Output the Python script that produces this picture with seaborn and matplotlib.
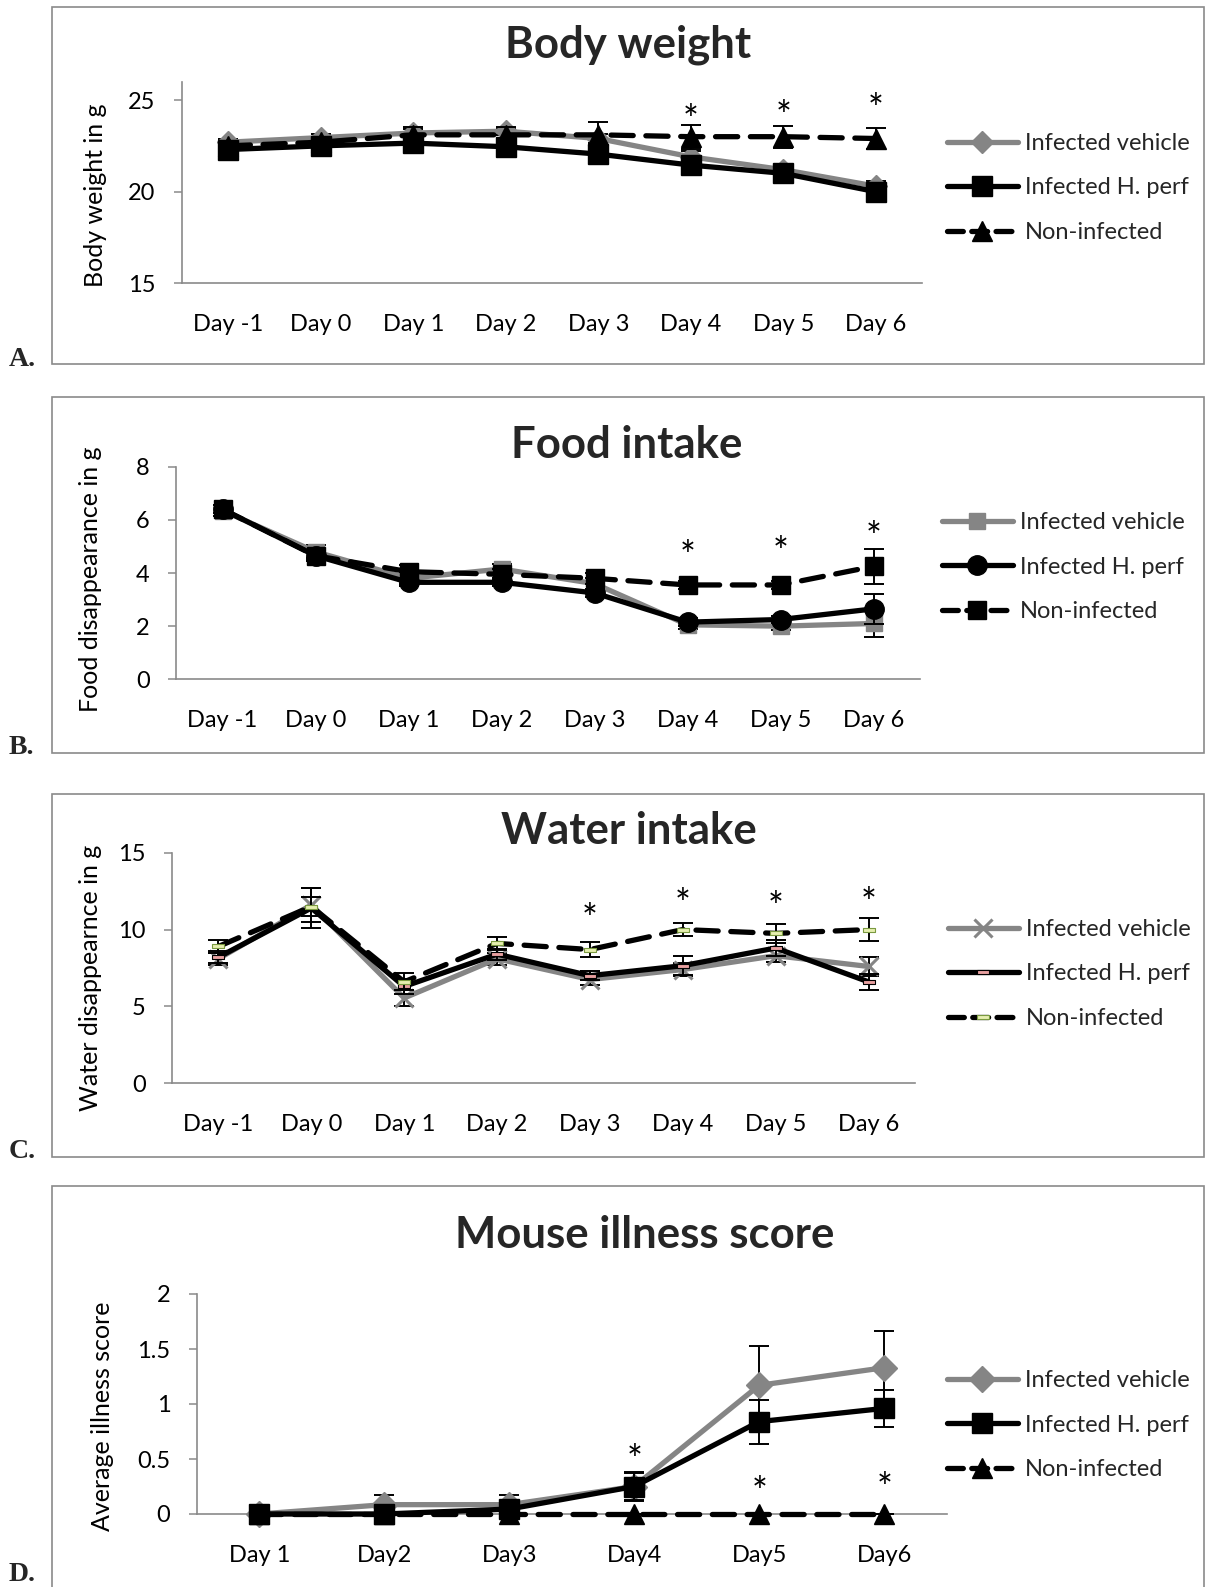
import numpy as np
import pandas as pd
import matplotlib
matplotlib.use("Agg")
import matplotlib.pyplot as plt
from matplotlib.lines import Line2D
from matplotlib.patches import Rectangle
from matplotlib.path import Path
import seaborn as sns

# ---------------- data ----------------
days8 = ["Day -1", "Day 0", "Day 1", "Day 2", "Day 3", "Day 4", "Day 5", "Day 6"]
days6 = ["Day 1", "Day2", "Day3", "Day4", "Day5", "Day6"]
groups = ["Infected vehicle", "Infected H. perf", "Non-infected"]

# Body weight (g)
bw_vehicle = [22.7, 22.95, 23.2, 23.3, 22.9, 21.9, 21.2, 20.3]
bw_hperf = [22.3, 22.5, 22.65, 22.45, 22.05, 21.45, 21.0, 20.0]
bw_noninf = [22.5, 22.7, 23.1, 23.1, 23.1, 23.0, 23.0, 22.9]
bw_vehicle_err = [0.15, 0.2, 0.2, 0.2, 0.25, 0.3, 0.2, 0.3]
bw_hperf_err = [0.2, 0.2, 0.25, 0.2, 0.3, 0.3, 0.2, 0.3]
bw_noninf_err = [0.2, 0.3, 0.45, 0.45, 0.7, 0.65, 0.6, 0.55]
bw_stars = [24.3, 24.55, 24.9]

# Food disappearance (g)
fd_vehicle = [6.35, 4.8, 3.8, 4.15, 3.6, 2.05, 2.0, 2.1]
fd_hperf = [6.4, 4.65, 3.65, 3.65, 3.25, 2.15, 2.25, 2.65]
fd_noninf = [6.4, 4.65, 4.05, 3.95, 3.8, 3.55, 3.55, 4.25]
fd_vehicle_err = [0.2, 0.25, 0.2, 0.2, 0.2, 0.15, 0.15, 0.5]
fd_hperf_err = [0.15, 0.2, 0.15, 0.15, 0.15, 0.15, 0.15, 0.57]
fd_noninf_err = [0.15, 0.15, 0.25, 0.2, 0.2, 0.15, 0.15, 0.65]
fd_stars = [4.92, 5.05, 5.64]

# Water disappearance (g)
wd_vehicle = [8.1, 11.6, 5.55, 8.1, 6.75, 7.4, 8.3, 7.6]
wd_hperf = [8.2, 11.4, 6.3, 8.4, 7.0, 7.65, 8.8, 6.6]
wd_noninf = [8.9, 11.5, 6.6, 9.1, 8.7, 10.0, 9.75, 10.0]
wd_vehicle_err = [0.4, 1.1, 0.5, 0.4, 0.35, 0.4, 0.4, 0.6]
wd_hperf_err = [0.4, 1.3, 0.5, 0.35, 0.3, 0.6, 0.5, 0.5]
wd_noninf_err = [0.45, 0.6, 0.55, 0.4, 0.5, 0.45, 0.6, 0.75]
wd_stars = [11.17, 12.14, 11.93, 12.19]

# Illness score
il_vehicle = [0.0, 0.085, 0.085, 0.25, 1.17, 1.33]
il_hperf = [0.0, 0.0, 0.045, 0.25, 0.84, 0.96]
il_noninf = [0.0, 0.0, 0.0, 0.0, 0.0, 0.0]
il_vehicle_err = [0.0, 0.085, 0.085, 0.13, 0.36, 0.33]
il_hperf_err = [0.0, 0.0, 0.05, 0.12, 0.2, 0.17]
il_noninf_err = [0.0, 0.0, 0.0, 0.0, 0.0, 0.0]
il_stars = [0.555, 0.27, 0.305]

# ---------------- style ----------------
W, H = 1207, 1587
GRAY = "#858585"
AXIS = "#8a8a8a"
FS = 17
STAR_FS = 27
TITLE_FS = 31.5

sns.set_theme(style="white")
plt.rcParams["font.family"] = ["Lato", "DejaVu Sans"]

fig = plt.figure(figsize=(W / 100, H / 100), dpi=100)

# dash-shaped marker used in the water panel
DASH = Path([(-1, -0.35), (1, -0.35), (1, 0.35), (-1, 0.35), (-1, -0.35)],
            [Path.MOVETO, Path.LINETO, Path.LINETO, Path.LINETO, Path.CLOSEPOLY])


def px_axes(x0, top, x1, bottom):
    return fig.add_axes([x0 / W, 1 - bottom / H, (x1 - x0) / W, (bottom - top) / H])


def fx(x):
    return x / W


def fy(y):
    return 1 - y / H


def panel_box(top, bottom, letter, letter_y, va="baseline"):
    fig.patches.append(Rectangle((fx(51.5), fy(bottom)), fx(1203.5 - 51.5), (bottom - top) / H,
                                 transform=fig.transFigure, fill=False,
                                 edgecolor=AXIS, linewidth=1.2, zorder=0))
    fig.text(fx(9), fy(letter_y), letter, fontsize=20, fontweight="bold",
             family=["Liberation Serif", "DejaVu Serif"], ha="left", va=va)


def draw_series(ax, days, values, errs, style, z):
    df = pd.DataFrame({"day": days, "value": values})
    sns.pointplot(data=df, x="day", y="value", order=days, ax=ax, errorbar=None,
                  legend=False, zorder=z, clip_on=False, **style)
    ax.errorbar(np.arange(len(days)), values, yerr=errs, fmt="none", ecolor="black",
                elinewidth=1.4, capsize=7, capthick=1.4, zorder=z - 0.5)


def style_axes(ax, days, ylim, yticks, yticklabels, ylabel, label_xy, ax_box):
    n = len(days)
    ax.set_xlim(-0.5, n - 0.5)
    ax.set_ylim(*ylim)
    ax.set_xticks(np.arange(n))
    ax.set_xticklabels(days, fontsize=FS, color="black")
    ax.set_xticks(np.arange(n + 1) - 0.5, minor=True)
    ax.set_yticks(yticks)
    ax.set_yticklabels(yticklabels, fontsize=FS, color="black")
    ax.tick_params(axis="x", which="major", length=0, pad=22)
    ax.tick_params(axis="x", which="minor", length=6, width=1.1, color=AXIS, direction="out")
    ax.tick_params(axis="y", which="major", length=6, width=1.1, color=AXIS, direction="out",
                   pad=13, left=True)
    for side in ["top", "right"]:
        ax.spines[side].set_visible(False)
    for side in ["left", "bottom"]:
        ax.spines[side].set_color(AXIS)
        ax.spines[side].set_linewidth(1.2)
    ax.set_xlabel("")
    ax.set_ylabel(ylabel, fontsize=18, color="black")
    x0, top, x1, bottom = ax_box
    lx = (label_xy[0] - x0) / (x1 - x0)
    ly = (bottom - label_xy[1]) / (bottom - top)
    ax.yaxis.set_label_coords(lx, ly)
    ax.yaxis.label.set_verticalalignment("center")
    ax.grid(False)
    ax.patch.set_alpha(0)


def add_stars(ax, xs, ys):
    # the asterisk glyph sits high in its text box, so nudge it down onto the value
    for x, y in zip(xs, ys):
        ax.annotate("*", (x, y), xytext=(0, -0.25 * STAR_FS), textcoords="offset points",
                    fontsize=STAR_FS, ha="center", va="center", color="black",
                    annotation_clip=False)


def add_legend(styles, x, y):
    handles = []
    for st in styles:
        kw = dict(st)
        if "dashes" in kw:
            kw["dashes"] = (3.0, 1.6)
        handles.append(Line2D([], [], **kw))
    fig.legend(handles, groups, loc="center left", bbox_to_anchor=(fx(x), fy(y)),
               frameon=False, fontsize=FS, handlelength=3.0, handletextpad=0.3,
               labelspacing=1.0, borderpad=0, borderaxespad=0, numpoints=1)


def solid(color, marker, ms, **extra):
    d = dict(color=color, marker=marker, markersize=ms, linestyle="-", linewidth=3.8,
             markeredgewidth=1, solid_capstyle="round")
    d.update(extra)
    return d


def dashed(marker, ms, **extra):
    d = dict(color="black", marker=marker, markersize=ms, linestyle="--", linewidth=3.8,
             dashes=(4.2, 2.4), dash_capstyle="round", markeredgewidth=1)
    d.update(extra)
    return d


# ---------------- panel A: body weight ----------------
panel_box(6.5, 364, "A.", 366)
boxA = (182, 81.7, 922, 283.3)
axA = px_axes(*boxA)
stA = [solid(GRAY, "D", 11, markeredgecolor=GRAY),
       solid("black", "s", 14),
       dashed("^", 15)]
for vals, errs, st, z in [(bw_vehicle, bw_vehicle_err, stA[0], 3),
                          (bw_hperf, bw_hperf_err, stA[1], 4),
                          (bw_noninf, bw_noninf_err, stA[2], 5)]:
    draw_series(axA, days8, vals, errs, st, z)
style_axes(axA, days8, (15, 26), [15, 20, 25], ["15", "20", "25"],
           "Body weight in g", (96, 195), boxA)
add_stars(axA, [5, 6, 7], bw_stars)
fig.text(fx(628), fy(45), "Body weight", fontsize=TITLE_FS, fontweight="bold",
         ha="center", va="center")
add_legend(stA, 947, 188)

# ---------------- panel B: food intake ----------------
panel_box(397, 753, "B.", 754)
boxB = (176, 466.7, 920, 679.3)
axB = px_axes(*boxB)
stB = [solid(GRAY, "s", 12, markeredgecolor=GRAY),
       solid("black", "o", 14),
       dashed("s", 13)]
for vals, errs, st, z in [(fd_vehicle, fd_vehicle_err, stB[0], 3),
                          (fd_hperf, fd_hperf_err, stB[1], 4),
                          (fd_noninf, fd_noninf_err, stB[2], 5)]:
    draw_series(axB, days8, vals, errs, st, z)
style_axes(axB, days8, (0, 8), [0, 2, 4, 6, 8], ["0", "2", "4", "6", "8"],
           "Food disappearance in g", (91, 579), boxB)
add_stars(axB, [5, 6, 7], fd_stars)
fig.text(fx(627), fy(445), "Food intake", fontsize=TITLE_FS, fontweight="bold",
         ha="center", va="center")
add_legend(stB, 942, 567)

# ---------------- panel C: water intake ----------------
panel_box(794, 1157, "C.", 1158)
boxC = (172, 852.7, 915, 1083.3)
axC = px_axes(*boxC)
stC = [solid(GRAY, "x", 13, markeredgewidth=2.2, markeredgecolor=GRAY),
       solid("black", DASH, 8, markerfacecolor="#e8a0a0", markeredgecolor="black",
             markeredgewidth=0.8),
       dashed(DASH, 8, markerfacecolor="#e6efb0", markeredgecolor="#7a9a40",
              markeredgewidth=0.8)]
for vals, errs, st, z in [(wd_vehicle, wd_vehicle_err, stC[0], 3),
                          (wd_hperf, wd_hperf_err, stC[1], 4),
                          (wd_noninf, wd_noninf_err, stC[2], 5)]:
    draw_series(axC, days8, vals, errs, st, z)
style_axes(axC, days8, (0, 15), [0, 5, 10, 15], ["0", "5", "10", "15"],
           "Water disappearnce in g", (91, 978), boxC)
add_stars(axC, [4, 5, 6, 7], wd_stars)
fig.text(fx(629), fy(831), "Water intake", fontsize=TITLE_FS, fontweight="bold",
         ha="center", va="center")
add_legend(stC, 948, 974)

# ---------------- panel D: illness score ----------------
panel_box(1186, 1600, "D.", 1587, va="bottom")
boxD = (196.7, 1294, 946.7, 1514)
axD = px_axes(*boxD)
stD = [solid(GRAY, "D", 13, markeredgecolor=GRAY),
       solid("black", "s", 15),
       dashed("^", 14)]
for vals, errs, st, z in [(il_vehicle, il_vehicle_err, stD[0], 3),
                          (il_hperf, il_hperf_err, stD[1], 4),
                          (il_noninf, il_noninf_err, stD[2], 5)]:
    draw_series(axD, days6, vals, errs, st, z)
style_axes(axD, days6, (0, 2), [0, 0.5, 1, 1.5, 2], ["0", "0.5", "1", "1.5", "2"],
           "Average illness score", (103, 1416), boxD)
add_stars(axD, [3, 4, 5], il_stars)
fig.text(fx(645), fy(1235), "Mouse illness score", fontsize=TITLE_FS, fontweight="bold",
         ha="center", va="center")
add_legend(stD, 947, 1425)

fig.savefig("out.png", dpi=100)
